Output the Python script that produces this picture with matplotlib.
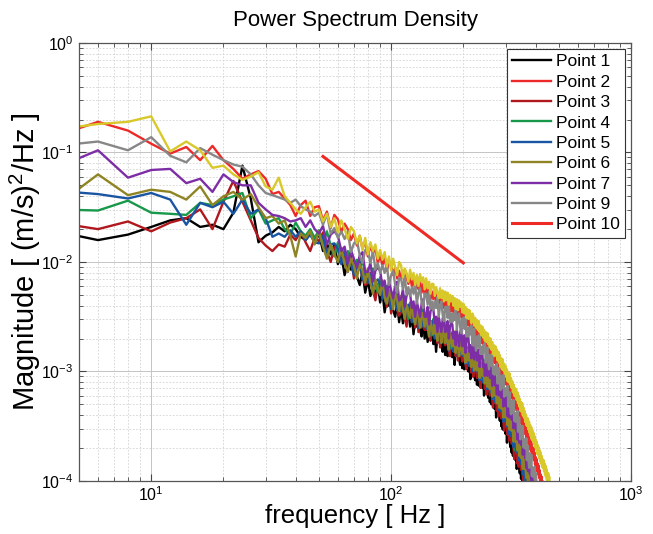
import numpy as np
import matplotlib
matplotlib.use("Agg")
import matplotlib.pyplot as plt
from matplotlib.ticker import LogLocator, NullFormatter

plt.rcParams['font.family'] = ['Liberation Sans', 'DejaVu Sans']
plt.rcParams['mathtext.fontset'] = 'custom'
plt.rcParams['mathtext.rm'] = 'Liberation Sans'
plt.rcParams['mathtext.it'] = 'Liberation Sans'
plt.rcParams['axes.unicode_minus'] = False

# ---------------- data (PSD in dB = 10*log10(value)) ----------------
F_START = 4.0   # Hz, first frequency bin
F_STEP = 2.0    # Hz, bin spacing

p1_db = [-17.2, -18.0, -17.5, -16.8, -16.2, -16.0, -16.8, -16.6, -17.0, -15.5, -11.2, -14.2, -18.2, -17.6, -17.3, -16.8, -17.2, -16.6, -17.0, -17.7, -18.0, -17.4, -18.2,
         -17.4, -19.0, -18.3, -19.3, -18.4, -20.2, -19.3, -21.2, -20.0, -20.7, -19.9, -21.3, -22.1, -20.9, -22.8,
         -21.6, -23.1, -22.2, -23.1, -22.0, -23.7, -22.7, -24.6, -23.3, -24.0, -23.1, -24.4, -25.0, -23.8, -25.5,
         -24.2, -25.6, -24.6, -25.5, -24.3, -25.9, -24.8, -26.6, -25.3, -25.9, -24.9, -26.2, -26.8, -25.5, -27.0,
         -25.9, -27.3, -26.3, -27.1, -25.9, -27.5, -26.4, -28.2, -26.7, -27.3, -26.3, -27.6, -28.2, -26.8, -28.5,
         -27.2, -28.6, -27.6, -28.3, -27.1, -28.7, -27.6, -29.4, -27.9, -28.5, -27.5, -28.8, -29.4, -28.0, -29.7,
         -28.4, -29.8, -28.8, -29.6, -28.4, -30.0, -28.9, -30.7, -29.3, -29.9, -28.9, -30.2, -30.8, -29.4, -31.2,
         -29.9, -31.3, -30.3, -31.1, -29.9, -31.5, -30.4, -32.2, -30.9, -31.5, -30.5, -31.8, -32.4, -31.2, -32.8,
         -31.6, -33.0, -32.1, -32.9, -31.8, -33.4, -32.3, -34.2, -32.8, -33.5, -32.5, -33.9, -34.5, -33.3, -35.0,
         -33.8, -35.3, -34.3, -35.2, -34.0, -35.7, -34.7, -36.5, -35.2, -35.8, -34.9, -36.3, -36.9, -35.7, -37.4,
         -36.2, -37.7, -36.7, -37.6, -36.4, -38.1, -37.1, -38.9, -37.6, -38.2, -37.3, -38.7, -39.3, -38.1, -39.8,
         -38.6, -40.1, -39.3, -40.2, -39.2, -40.5, -41.3]

p2_db = [-8.5, -7.2, -8.0, -9.2, -10.1, -9.5, -10.7, -9.4, -10.7, -11.5, -12.4, -12.0, -11.7, -12.4, -13.8, -13.6, -14.2, -14.8, -15.8, -14.8, -14.4, -15.8, -15.0,
         -14.9, -16.2, -15.4, -16.9, -15.7, -16.1, -17.3, -16.5, -17.0, -18.0, -17.4, -18.5, -17.6, -18.8, -18.1,
         -19.5, -18.5, -19.2, -18.7, -20.1, -19.4, -20.3, -19.6, -20.8, -19.9, -20.3, -21.2, -20.5, -21.5, -20.8,
         -21.6, -20.8, -21.9, -21.1, -22.0, -21.3, -22.2, -21.5, -22.5, -21.8, -22.5, -21.7, -22.8, -22.0, -23.0,
         -22.2, -23.1, -22.4, -23.4, -22.7, -23.4, -22.6, -23.6, -22.9, -23.8, -23.0, -23.9, -23.2, -24.2, -23.4,
         -24.1, -23.3, -24.4, -23.6, -24.5, -23.7, -24.6, -23.9, -24.9, -24.1, -24.8, -24.0, -25.0, -24.3, -25.2,
         -24.4, -25.3, -24.6, -25.6, -24.9, -25.8, -25.0, -26.1, -25.3, -26.3, -25.5, -26.4, -25.7, -26.7, -25.9,
         -26.9, -26.1, -27.2, -26.4, -27.4, -26.6, -27.5, -26.8, -27.9, -27.1, -28.0, -27.2, -28.3, -27.5, -28.5,
         -27.8, -28.7, -28.0, -29.1, -28.3, -29.2, -28.4, -29.5, -28.7, -29.8, -29.0, -29.9, -29.2, -30.3, -29.5,
         -30.4, -29.6, -30.7, -30.0, -31.0, -30.3, -31.2, -30.5, -31.6, -30.9, -31.8, -31.0, -32.1, -31.4, -32.4,
         -31.8, -32.7, -32.0, -33.1, -32.4, -33.3, -32.5, -33.6, -32.9, -34.0, -33.3, -34.2, -33.5, -34.6, -33.9,
         -34.8, -34.0, -35.1, -34.4, -35.5, -34.8, -35.7, -35.0, -36.1, -35.4, -36.3, -35.5, -36.6, -35.9, -37.0,
         -36.3, -37.2, -36.5, -37.6, -36.9, -37.8, -37.0, -38.1, -37.4, -38.5, -37.8, -38.7, -38.0, -39.1, -38.4,
         -39.4, -38.6, -39.7, -39.0, -40.1, -39.4, -40.3, -39.6, -40.7, -40.0, -41.0, -40.4, -41.5]

p3_db = [-16.4, -17.0, -16.3, -17.2, -16.4, -16.0, -15.2, -17.0, -14.5, -12.6, -14.5, -16.2, -17.8, -18.5, -19.0, -18.4, -18.6, -17.5, -18.0, -17.2, -18.2, -19.0, -17.8,
         -18.1, -17.3, -19.0, -20.0, -18.6, -18.8, -20.0, -19.5, -20.9, -19.4, -21.5, -20.5, -20.2, -21.5, -22.1,
         -21.9, -21.0, -22.6, -23.5, -22.0, -22.1, -23.3, -22.8, -24.1, -22.6, -24.7, -23.6, -23.2, -24.4, -24.9,
         -24.6, -23.6, -25.1, -25.9, -24.3, -24.3, -25.4, -24.8, -26.0, -24.4, -26.4, -25.3, -24.9, -25.9, -26.2,
         -26.2, -25.2, -26.7, -27.2, -25.8, -25.8, -26.9, -26.2, -27.4, -25.7, -27.8, -26.7, -26.3, -27.3, -27.6,
         -27.5, -26.5, -28.0, -28.6, -27.0, -27.0, -28.1, -27.5, -28.6, -26.9, -29.0, -27.9, -27.5, -28.6, -29.1,
         -28.8, -27.8, -29.3, -29.8, -28.4, -28.4, -29.5, -28.9, -30.1, -28.5, -30.5, -29.4, -28.9, -30.0, -30.6,
         -30.3, -29.3, -30.8, -31.5, -29.9, -29.9, -31.0, -30.5, -31.6, -30.1, -32.1, -31.0, -30.6, -31.7, -32.2,
         -32.0, -31.0, -32.6, -33.3, -31.8, -31.8, -32.9, -32.4, -33.6, -32.0, -34.1, -33.0, -32.6, -33.8, -34.3,
         -34.1, -33.1, -34.7, -35.4, -33.9, -33.9, -35.1, -34.5, -35.8, -34.2, -36.3, -35.3, -34.9, -36.1, -36.6,
         -36.4, -35.5, -37.2, -38.0, -36.2, -36.3, -37.5, -37.0, -38.4, -36.7, -38.7, -37.7, -37.4, -38.5, -39.0,
         -38.8, -37.9, -39.7, -40.3, -38.9, -38.9, -40.1, -39.6, -41.1]

p4_db = [-15.2, -15.3, -14.4, -15.5, -15.6, -15.7, -14.6, -14.8, -14.3, -14.0, -13.7, -16.0, -15.2, -16.5, -16.2, -16.0, -17.0, -17.5, -16.4, -17.2, -17.6, -17.0, -17.8,
         -17.1, -18.4, -17.2, -18.5, -19.5, -18.2, -19.2, -20.2, -19.0, -20.2, -20.8, -19.8, -20.7, -19.7, -21.4,
         -20.7, -21.9, -20.6, -21.9, -22.8, -21.4, -22.4, -23.3, -22.2, -23.3, -23.9, -22.8, -23.6, -22.6, -24.2,
         -23.4, -24.5, -23.1, -24.4, -25.2, -23.7, -24.6, -25.4, -24.1, -25.1, -25.6, -24.5, -25.3, -24.2, -25.8,
         -25.0, -26.1, -24.7, -26.0, -26.7, -25.2, -26.1, -26.8, -25.4, -26.3, -27.0, -25.9, -26.6, -25.5, -27.1,
         -26.3, -27.4, -26.0, -27.2, -27.9, -26.4, -27.3, -28.1, -26.7, -27.7, -28.2, -27.1, -27.8, -26.7, -28.3,
         -27.5, -28.6, -27.2, -28.4, -29.2, -27.7, -28.6, -29.4, -28.1, -29.1, -29.6, -28.5, -29.3, -28.2, -29.8,
         -29.0, -30.1, -28.7, -30.0, -30.7, -29.2, -30.1, -30.9, -29.7, -30.7, -31.2, -30.1, -30.9, -29.9, -31.5,
         -30.7, -31.9, -30.5, -31.7, -32.5, -31.0, -32.0, -32.8, -31.5, -32.6, -33.1, -32.0, -32.9, -31.8, -33.6,
         -32.6, -33.9, -32.5, -33.7, -34.5, -33.0, -34.0, -34.8, -33.6, -34.7, -35.2, -34.2, -35.0, -34.0, -35.8,
         -34.9, -36.2, -34.9, -36.3, -37.2, -35.4, -36.4, -37.3, -36.0, -37.0, -37.6, -36.6, -37.4, -36.3, -38.0,
         -37.3, -38.5, -37.2, -38.5, -39.4, -38.0, -39.0, -39.9, -38.7, -39.8, -40.4, -39.4, -40.2, -39.3, -41.1,
         -40.6, -41.4]

p5_db = [-13.5, -13.8, -14.2, -13.7, -14.3, -16.6, -14.6, -15.0, -14.5, -15.6, -14.3, -15.6, -15.2, -16.0, -17.7, -17.4, -17.7, -17.1, -17.7, -17.2, -18.0, -17.5, -18.2,
         -18.3, -17.6, -19.4, -18.4, -18.3, -18.8, -20.2, -18.9, -20.3, -20.2, -21.2, -20.4, -19.9, -21.6, -20.9,
         -21.9, -21.1, -22.8, -21.8, -21.6, -22.0, -23.4, -22.1, -23.4, -23.3, -24.3, -23.4, -22.8, -24.4, -23.6,
         -24.5, -23.6, -25.2, -24.2, -23.9, -24.2, -25.5, -24.1, -25.3, -25.1, -26.0, -25.1, -24.5, -25.9, -25.2,
         -26.1, -25.2, -26.8, -25.9, -25.4, -25.7, -27.0, -25.6, -26.7, -26.5, -27.4, -26.5, -25.9, -27.3, -26.5,
         -27.4, -26.5, -28.1, -27.1, -26.6, -26.9, -28.2, -26.8, -27.9, -27.7, -28.6, -27.7, -27.1, -28.5, -27.7,
         -28.6, -27.7, -29.3, -28.2, -27.9, -28.2, -29.5, -28.1, -29.3, -29.1, -30.0, -29.1, -28.5, -29.9, -29.2,
         -30.1, -29.2, -30.8, -29.9, -29.6, -29.7, -31.0, -29.6, -30.8, -30.6, -31.6, -30.7, -30.1, -31.6, -30.9,
         -31.8, -30.9, -32.5, -31.6, -31.3, -31.5, -32.8, -31.5, -32.7, -32.5, -33.5, -32.6, -32.1, -33.6, -32.9,
         -33.8, -32.9, -34.6, -33.7, -33.4, -33.6, -35.0, -33.6, -34.9, -34.7, -35.7, -34.8, -34.3, -35.9, -35.3,
         -36.1, -35.3, -36.9, -36.1, -35.8, -36.0, -37.4, -36.1, -37.3, -37.1, -38.1, -37.3, -36.7, -38.3, -37.8,
         -38.5, -37.7, -39.4, -38.6, -38.2, -38.6, -40.0, -38.7, -40.0, -39.9, -40.9, -40.1, -39.6, -41.2]

p6_db = [-14.9, -12.0, -13.9, -13.4, -13.6, -14.3, -13.1, -14.8, -14.0, -13.6, -14.3, -13.8, -15.0, -16.0, -15.8, -16.5, -16.2, -17.6, -19.5, -17.4, -17.8, -17.2, -18.4,
         -17.2, -18.6, -19.7, -18.4, -19.3, -20.0, -18.7, -20.2, -20.9, -19.7, -20.3, -21.5, -20.2, -20.8, -21.9,
         -20.6, -21.9, -22.9, -21.6, -22.4, -23.0, -21.7, -23.2, -23.8, -22.6, -23.2, -24.3, -22.9, -23.5, -24.5,
         -23.1, -24.3, -25.2, -23.9, -24.6, -25.1, -23.7, -25.1, -25.7, -24.4, -24.9, -26.0, -24.6, -25.1, -25.9,
         -24.7, -25.9, -26.8, -25.4, -26.1, -26.6, -25.2, -26.6, -27.2, -25.8, -26.3, -27.4, -26.0, -26.6, -27.4,
         -26.0, -27.2, -28.0, -26.6, -27.2, -27.7, -26.3, -27.7, -28.3, -26.9, -27.4, -28.6, -27.1, -27.7, -28.4,
         -27.1, -28.3, -29.2, -27.9, -28.5, -29.0, -27.6, -29.0, -29.6, -28.3, -28.8, -29.9, -28.5, -28.9, -29.9,
         -28.5, -29.7, -30.6, -29.2, -29.9, -30.4, -29.0, -30.4, -31.1, -29.8, -30.3, -31.4, -30.0, -30.6, -31.6,
         -30.2, -31.4, -32.3, -31.0, -31.7, -32.2, -30.8, -32.2, -32.9, -31.6, -32.1, -33.3, -31.9, -32.4, -33.4,
         -32.1, -33.3, -34.2, -32.9, -33.6, -34.2, -32.8, -34.2, -34.9, -33.6, -34.2, -35.3, -33.9, -34.5, -35.4,
         -34.2, -35.5, -36.4, -35.1, -35.8, -36.4, -35.1, -36.5, -37.2, -35.9, -36.5, -37.7, -36.3, -36.9, -37.9,
         -36.6, -37.9, -38.9, -37.5, -38.3, -38.9, -37.6, -39.0, -39.7, -38.5, -39.1, -40.3, -38.8, -39.5, -40.6,
         -39.3, -40.6, -41.6]

p7_db = [-11.4, -9.8, -12.3, -11.6, -11.5, -12.8, -12.4, -13.6, -12.0, -12.7, -13.0, -13.0, -14.6, -15.2, -15.7, -15.8, -16.0, -16.3, -16.2, -16.0, -16.8, -16.2, -17.0,
         -17.4, -16.7, -18.4, -17.5, -17.2, -17.6, -19.0, -18.6, -20.1, -18.9, -19.7, -20.5, -19.4, -19.1, -20.9,
         -20.9, -20.1, -21.8, -20.8, -20.5, -20.8, -22.2, -21.7, -23.1, -21.8, -22.6, -23.3, -22.1, -21.8, -23.5,
         -23.4, -22.5, -24.1, -23.1, -22.7, -22.9, -24.2, -23.6, -25.0, -23.6, -24.3, -25.0, -23.8, -23.4, -25.0,
         -25.0, -24.1, -25.7, -24.5, -24.1, -24.3, -25.6, -25.0, -26.4, -25.0, -25.7, -26.4, -25.2, -24.7, -26.4,
         -26.3, -25.4, -27.0, -25.9, -25.5, -25.7, -27.0, -26.4, -27.6, -26.2, -27.0, -27.7, -26.5, -26.0, -27.7,
         -27.6, -26.7, -28.3, -27.1, -26.7, -26.9, -28.2, -27.6, -28.8, -27.5, -28.2, -28.9, -27.8, -27.3, -29.0,
         -28.9, -28.0, -29.6, -28.5, -28.1, -28.3, -29.6, -29.0, -30.4, -29.0, -29.7, -30.4, -29.2, -28.9, -30.6,
         -30.5, -29.6, -31.3, -30.2, -29.8, -30.0, -31.3, -30.7, -32.1, -30.8, -31.5, -32.2, -31.1, -30.7, -32.4,
         -32.3, -31.4, -33.2, -32.0, -31.7, -31.9, -33.2, -32.7, -34.1, -32.8, -33.5, -34.2, -33.1, -32.7, -34.4,
         -34.4, -33.6, -35.2, -34.2, -33.8, -34.1, -35.4, -34.9, -36.2, -34.9, -35.7, -36.5, -35.3, -35.0, -36.7,
         -36.7, -35.9, -37.6, -36.6, -36.3, -36.5, -37.9, -37.4, -38.8, -37.5, -38.3, -39.1, -37.9, -37.6, -39.3,
         -39.4, -38.6, -40.3, -39.2, -38.8, -40.1, -40.8, -41.3]

p9_db = [-9.4, -9.0, -9.8, -8.6, -10.3, -10.9, -9.6, -10.2, -10.7, -11.1, -11.3, -12.0, -13.0, -13.7, -13.9, -14.1, -14.3, -14.6, -14.3, -14.9, -15.2, -15.4, -15.8,
         -15.5, -16.6, -15.6, -17.4, -16.9, -17.8, -17.2, -17.9, -17.2, -19.1, -18.3, -18.0, -19.4, -20.1, -18.9,
         -19.0, -20.1, -19.0, -20.7, -20.1, -21.0, -20.3, -21.0, -20.2, -22.1, -21.2, -20.8, -22.1, -22.8, -21.5,
         -21.5, -22.5, -21.3, -23.0, -22.3, -23.1, -22.3, -22.9, -22.0, -23.8, -22.8, -22.4, -23.7, -24.2, -22.9,
         -22.9, -23.9, -22.7, -24.3, -23.6, -24.4, -23.6, -24.2, -23.2, -25.0, -24.0, -23.6, -24.8, -25.4, -24.1,
         -24.1, -25.1, -23.9, -25.5, -24.7, -25.5, -24.7, -25.3, -24.3, -26.2, -25.1, -24.7, -25.9, -26.5, -25.2,
         -25.1, -26.1, -25.0, -26.8, -26.0, -26.8, -26.0, -26.6, -25.8, -27.6, -26.5, -26.1, -27.4, -28.1, -26.8,
         -26.8, -27.8, -26.6, -28.4, -27.8, -28.4, -27.6, -28.2, -27.4, -29.2, -28.2, -27.8, -29.1, -29.8, -28.5,
         -28.5, -29.5, -28.4, -30.2, -29.6, -30.3, -29.5, -30.2, -29.3, -31.1, -30.1, -29.7, -31.1, -31.7, -30.4,
         -30.5, -31.5, -30.3, -32.3, -31.6, -32.2, -31.5, -32.1, -31.3, -33.2, -32.2, -31.9, -33.2, -33.9, -32.7,
         -32.7, -33.8, -32.6, -34.5, -33.8, -34.6, -33.9, -34.5, -33.6, -35.5, -34.5, -34.2, -35.5, -36.2, -35.0,
         -35.0, -36.1, -35.0, -36.9, -36.2, -37.0, -36.3, -37.0, -36.1, -38.1, -37.1, -36.8, -38.1, -38.8, -37.5,
         -37.6, -38.7, -37.6, -39.5, -38.8, -39.6, -38.9, -39.5, -38.7, -40.5, -39.6, -39.3, -40.7, -41.3, -40.1,
         -40.2, -41.3, -41.0]

p10_db = [-7.9, -7.4, -7.2, -6.7, -9.9, -9.0, -9.8, -11.4, -11.2, -12.0, -12.5, -12.2, -11.8, -13.1, -13.4, -12.3, -14.0, -14.6, -15.2, -15.6, -15.0, -14.5, -15.4,
          -15.2, -16.3, -15.6, -16.8, -16.0, -17.3, -16.2, -17.0, -17.9, -16.8, -17.2, -18.3, -17.6, -18.9, -17.8,
          -19.3, -18.2, -19.0, -18.4, -19.7, -18.9, -19.8, -19.1, -20.4, -19.5, -20.8, -19.7, -20.5, -21.2, -20.0,
          -20.3, -21.4, -20.6, -21.0, -21.8, -20.7, -21.6, -21.0, -22.1, -21.2, -22.2, -21.1, -21.8, -21.4, -22.5,
          -21.5, -22.4, -21.8, -22.9, -22.0, -22.0, -23.1, -22.3, -22.8, -23.3, -22.4, -23.3, -22.6, -23.6, -22.7,
          -23.5, -22.8, -23.9, -23.0, -23.6, -23.1, -24.0, -23.3, -24.3, -23.4, -24.4, -23.5, -24.1, -23.7, -24.6,
          -23.8, -24.7, -24.1, -25.1, -24.3, -25.2, -24.4, -25.0, -25.6, -24.7, -24.9, -25.8, -25.1, -26.0, -25.3,
          -26.2, -25.4, -26.4, -25.8, -26.7, -25.9, -26.9, -26.2, -27.2, -26.4, -27.3, -26.5, -27.5, -26.9, -27.8,
          -27.0, -28.0, -27.3, -28.4, -27.6, -28.6, -27.7, -28.5, -28.0, -29.0, -28.2, -29.2, -28.5, -29.6, -28.8,
          -29.8, -28.9, -29.9, -29.3, -30.2, -29.5, -30.5, -29.8, -30.9, -30.1, -31.0, -30.2, -31.2, -30.6, -31.5,
          -30.9, -31.9, -31.2, -32.2, -31.5, -32.3, -31.6, -32.6, -31.9, -32.9, -32.2, -33.2, -32.5, -33.6, -32.8,
          -33.7, -32.9, -34.0, -33.3, -34.2, -33.6, -34.6, -33.9, -34.9, -34.2, -35.0, -34.3, -35.3, -34.6, -35.6,
          -34.9, -35.9, -35.1, -36.2, -35.4, -36.3, -35.6, -36.6, -35.9, -36.9, -36.2, -37.1, -36.4, -37.5, -36.7,
          -37.6, -36.9, -37.9, -37.2, -38.2, -37.4, -38.4, -37.7, -38.7, -38.0, -38.8, -38.1, -39.1, -38.4, -39.4,
          -38.6, -39.6, -38.9, -39.9, -39.2, -40.0, -39.3, -40.3, -39.6, -40.6, -40.5, -41.2, -40.8, -41.8]

# -5/3 reference line end points (frequency [Hz], magnitude)
ref_freq = [52.0, 200.0]
ref_mag = [0.092, 0.0098]

legend_labels = ['Point 1', 'Point 2', 'Point 3', 'Point 4', 'Point 5',
                 'Point 6', 'Point 7', 'Point 9', 'Point 10']

series = [
    (p1_db, '#000000'),
    (p2_db, '#ec2a2a'),
    (p3_db, '#b0181e'),
    (p4_db, '#17984a'),
    (p5_db, '#1a55a3'),
    (p6_db, '#8f8424'),
    (p7_db, '#7d2ea6'),
    (p9_db, '#878787'),
]
ref_color = '#ee2a24'
p10_color = '#d8c82a'

# ---------------- figure ----------------
fig = plt.figure(figsize=(6.53, 5.34), dpi=100)
ax = fig.add_axes([0.121, 0.0993, 0.8453, 0.8202])

handles = []
for vals, col in series:
    v = np.asarray(vals)
    f = F_START + F_STEP * np.arange(len(v))
    h, = ax.plot(f, 10 ** (v / 10.0), color=col, lw=1.7)
    handles.append(h)

h_ref, = ax.plot(ref_freq, ref_mag, color=ref_color, lw=2.2)
handles.append(h_ref)

v10 = np.asarray(p10_db)
f10 = F_START + F_STEP * np.arange(len(v10))
ax.plot(f10, 10 ** (v10 / 10.0), color=p10_color, lw=1.7)

ax.set_xscale('log')
ax.set_yscale('log')
ax.set_xlim(5, 1000)
ax.set_ylim(1e-4, 1)

ax.xaxis.set_major_locator(LogLocator(base=10, numticks=10))
ax.xaxis.set_minor_locator(LogLocator(base=10, subs=np.arange(2, 10), numticks=20))
ax.yaxis.set_major_locator(LogLocator(base=10, numticks=10))
ax.yaxis.set_minor_locator(LogLocator(base=10, subs=np.arange(2, 10), numticks=20))
ax.xaxis.set_minor_formatter(NullFormatter())
ax.yaxis.set_minor_formatter(NullFormatter())

ax.grid(True, which='major', color='#c4c4c4', linestyle='-', linewidth=0.7)
ax.grid(True, which='minor', color='#d2d2d2', linestyle=(0, (2, 2)), linewidth=0.6)
ax.set_axisbelow(True)

ax.tick_params(which='both', direction='in', top=True, right=True, colors='#444444',
               labelcolor='black', labelsize=11.5)
ax.tick_params(which='major', length=5, width=0.8, pad=4)
ax.tick_params(axis='x', which='major', pad=3)
ax.tick_params(which='minor', length=3, width=0.6)
for s in ax.spines.values():
    s.set_color('#555555')
    s.set_linewidth(0.9)

ax.set_title('Power Spectrum Density', fontsize=16, pad=12)
ax.set_xlabel('frequency [ Hz ]', fontsize=18.5)
ax.xaxis.set_label_coords(0.5, -0.053)
ax.set_ylabel('Magnitude [ (m/s)$^2$/Hz ]', fontsize=21)
ax.yaxis.set_label_coords(-0.066, 0.5)

leg = ax.legend(handles, legend_labels, loc='upper right', bbox_to_anchor=(0.989, 0.986),
                bbox_transform=ax.transAxes, borderaxespad=0, fontsize=12.5,
                frameon=True, fancybox=False, framealpha=1, edgecolor='#333333',
                handlelength=2.2, handletextpad=0.3, labelspacing=0.3, borderpad=0.3)
leg.get_frame().set_linewidth(0.8)

fig.savefig('out.png', dpi=100)
